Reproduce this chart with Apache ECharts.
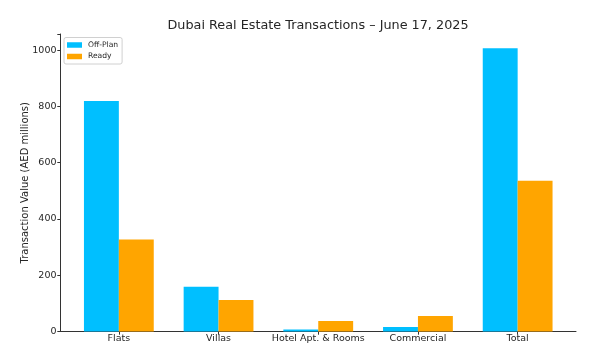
<!DOCTYPE html>
<html><head><meta charset="utf-8">
<script src="https://cdn.jsdelivr.net/npm/echarts@6/dist/echarts.min.js"></script>
<style>html,body{margin:0;padding:0;background:#fff}#c{width:603px;height:360px}</style>
</head><body><div id="c"></div>
<script>
const categories = ['Flats', 'Villas', 'Hotel Apt. & Rooms', 'Commercial', 'Total'];
const offPlan = [819, 159, 7, 16, 1006];
const ready = [327, 112, 37, 55, 536];
const yTicks = [0, 200, 400, 600, 800, 1000];

const font = 'DejaVu Sans';
const txt = '#262626';
const yMax = 1057;
const chart = echarts.init(document.getElementById('c'), null, {renderer: 'canvas'});
chart.setOption({
  animation: false,
  backgroundColor: '#fff',
  title: {
    text: 'Dubai Real Estate Transactions – June 17, 2025',
    left: 313, top: 14, textAlign: 'center',
    textStyle: {fontFamily: font, fontSize: 12.8, fontWeight: 'normal', color: txt}
  },
  legend: {
    orient: 'vertical', left: 64, top: 37.5,
    padding: [3, 4, 3, 3], itemGap: 2.5, itemWidth: 15, itemHeight: 5.5,
    borderColor: '#d0d0d0', borderWidth: 1, borderRadius: 2,
    backgroundColor: 'rgba(255,255,255,0.8)',
    icon: 'rect',
    textStyle: {fontFamily: font, fontSize: 7.6, lineHeight: 9, color: txt, padding: [0, 0, 0, 1]},
    data: ['Off-Plan', 'Ready']
  },
  grid: [
    {left: 60.5, right: 27, top: 34, bottom: 28.5},
    {left: 69, right: 35.5, top: 34, bottom: 28.5}
  ],
  xAxis: [
    {type: 'value', gridIndex: 0, min: -0.585, max: 4.585,
      axisLine: {show: true, onZero: false, lineStyle: {color: '#333', width: 1}},
      axisTick: {show: false}, axisLabel: {show: false}, splitLine: {show: false}},
    {type: 'category', gridIndex: 1, data: categories,
      axisLine: {show: false, onZero: false},
      axisTick: {show: true, alignWithLabel: true, length: 3.2, lineStyle: {color: '#333'}},
      axisLabel: {fontFamily: font, fontSize: 9.5, color: txt, margin: 2.5, interval: 0},
      splitLine: {show: false}}
  ],
  yAxis: [
    {type: 'value', gridIndex: 0, min: 0, max: yMax, interval: 200,
      axisLine: {show: true, onZero: false, lineStyle: {color: '#333', width: 1}},
      axisTick: {show: true, length: 3.2, lineStyle: {color: '#333'}},
      axisLabel: {fontFamily: font, fontSize: 9.5, color: txt, margin: 4,
        formatter: v => yTicks.includes(v) ? String(v) : ''},
      splitLine: {show: false},
      name: 'Transaction Value (AED millions)', nameLocation: 'middle', nameGap: 30,
      nameMoveOverlap: false,
      nameTextStyle: {fontFamily: font, fontSize: 10, color: txt}},
    {type: 'value', gridIndex: 1, min: 0, max: yMax, show: false, splitLine: {show: false}}
  ],
  series: [
    {name: 'Off-Plan', type: 'bar', xAxisIndex: 1, yAxisIndex: 1, data: offPlan,
      barWidth: 34.9, barGap: '0%', itemStyle: {color: '#00BFFF'}},
    {name: 'Ready', type: 'bar', xAxisIndex: 1, yAxisIndex: 1, data: ready,
      barWidth: 34.9, barGap: '0%', itemStyle: {color: '#FFA500'}}
  ]
});
</script></body></html>
